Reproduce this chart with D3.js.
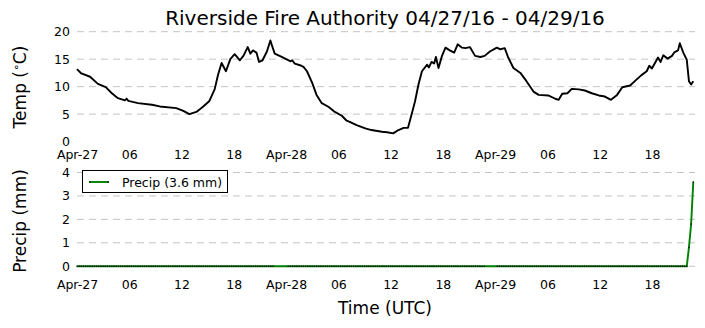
<!DOCTYPE html>
<html>
<head>
<meta charset="utf-8">
<script src="https://cdn.jsdelivr.net/npm/d3@7"></script>
<style>
  body { margin: 0; background: #fff; }
  svg { display: block; font-family: "DejaVu Sans", sans-serif; }
</style>
</head>
<body>
<svg id="chart" width="705" height="328"></svg>
<script>
// hours after 2016-04-27 00:00 UTC, and temperature
var tempHours = [0, 0.5, 1.5, 2.4, 3.3, 4.0, 4.7, 5.5, 5.7, 5.9, 7.0, 8.6, 9.5, 11.4, 12.2, 12.9, 13.7, 14.5, 15.2, 15.8, 16.2, 16.6, 17.1, 17.6,
    18.1, 18.7, 19.1, 19.6, 19.9, 20.2, 20.6, 20.9, 21.3, 21.8, 22.2, 22.4, 22.7, 23.5, 24.3, 24.5, 24.7, 25.0, 25.6, 26.0, 26.4, 27.0, 27.5,
    28.1, 28.9, 29.6, 30.4, 30.96, 31.3, 32.1, 33.1, 33.8, 35.0, 35.6, 36.3, 36.9, 37.5, 38.0, 38.4, 38.8, 39.2, 39.6, 40.2, 40.4, 40.7, 41.0,
    41.2, 41.5, 41.9, 42.3, 42.8, 43.3, 43.7, 44.2, 44.6, 45.1, 45.7, 46.3, 46.8, 47.4, 48.2, 48.6, 49.1, 49.5, 50.1, 50.9, 51.6, 52.4, 53.0,
    54.1, 54.9, 55.3, 55.7, 56.3, 56.8, 57.6, 58.3, 59.1, 59.9, 60.6, 61.3, 62.0, 62.6, 63.5, 64.1, 64.8, 65.4, 65.7, 66.0, 66.7, 67.0, 67.3,
    67.8, 68.3, 68.6, 69.0, 69.2, 69.6, 70.0, 70.25, 70.5, 70.75];
var tempValues = [13.2, 12.4, 11.8, 10.5, 9.9, 8.8, 7.9, 7.5, 7.8, 7.4, 7.0, 6.7, 6.4, 6.1, 5.6, 5.0, 5.4, 6.4, 7.4, 9.5, 12.2, 14.3, 12.8, 15.0,
    15.9, 14.8, 15.6, 17.2, 16.0, 16.6, 16.2, 14.5, 14.8, 16.4, 18.4, 17.4, 16.0, 15.4, 14.8, 14.6, 14.8, 14.2, 13.9, 13.6, 12.8, 10.7, 8.5,
    7.0, 6.3, 5.4, 4.7, 3.8, 3.6, 3.0, 2.4, 2.1, 1.8, 1.7, 1.5, 2.1, 2.5, 2.5, 4.9, 7.3, 10.4, 12.8, 14.0, 13.5, 14.5, 14.2,
    15.4, 13.4, 15.6, 17.1, 16.6, 16.2, 17.7, 17.1, 17.0, 17.2, 15.6, 15.4, 15.6, 16.4, 17.1, 16.8, 17.0, 15.3, 13.4, 12.5, 11.0, 9.1, 8.5,
    8.4, 7.8, 7.6, 8.7, 8.8, 9.6, 9.5, 9.3, 8.8, 8.4, 8.2, 7.6, 8.5, 9.9, 10.2, 11.1, 12.1, 12.8, 13.8, 13.3, 15.3, 14.5, 15.7,
    15.1, 15.6, 16.3, 16.6, 17.9, 16.2, 14.9, 11.0, 10.4, 11.0];

// cumulative precip, one reading per 15 min; zero until the last hour
var precipStep = 0.25;
var precipZeroUntil = 70;
var precipTailHours = [70.25, 70.5, 70.75];
var precipTailValues = [0.8, 1.8, 3.6];
var precipMissingMarks = [[22.7, 24.1], [46.9, 48.2]];

var tempTicks = [0, 5, 10, 15, 20];
var precipTicks = [0, 1, 2, 3, 4];
var precipTotal = "3.6 mm";

var t0 = Date.UTC(2016, 3, 27, 0, 0);
var hourToDate = function (h) { return new Date(t0 + h * 3600e3); };

var tempData = tempHours.map(function (h, i) { return { t: hourToDate(h), v: tempValues[i] }; });
var precipData = [];
for (var h = 0; h <= precipZeroUntil + 1e-9; h += precipStep) {
    precipData.push({ h: h, t: hourToDate(h), v: 0 });
}
precipTailHours.forEach(function (h, i) { precipData.push({ h: h, t: hourToDate(h), v: precipTailValues[i] }); });

var svg = d3.select("#chart");

var x = d3.scaleUtc()
    .domain([hourToDate(0), hourToDate(70.75)])
    .range([77, 693.3]);

var yT = d3.scaleLinear().domain([0, 20]).range([141.6, 31.7]);
var yP = d3.scaleLinear().domain([0, 4]).range([266.2, 172.5]);

var xTicks = d3.utcHour.every(6).range(hourToDate(0), hourToDate(71));
var fmtTick = function (d) {
    return d.getUTCHours() === 0 ? d3.utcFormat("%b-%d")(d) : d3.utcFormat("%H")(d);
};

function drawPanel(y, yticks, gridTicks) {
    var g = svg.append("g");
    // dashed grid
    g.selectAll("line.grid").data(gridTicks).enter().append("line")
        .attr("class", "grid")
        .attr("x1", 77).attr("x2", 695)
        .attr("y1", function (d) { return y(d); })
        .attr("y2", function (d) { return y(d); })
        .attr("stroke", "#c4c4c4")
        .attr("stroke-width", 1)
        .attr("stroke-dasharray", "7,5");

    var ya = d3.axisLeft(y).tickValues(yticks).tickSize(0).tickPadding(0).tickFormat(d3.format("d"));
    var yg = g.append("g").attr("transform", "translate(70,0)").call(ya);
    yg.select(".domain").remove();
    yg.selectAll("text").attr("font-size", "12.5px").attr("font-family", "DejaVu Sans").attr("fill", "#000");
    return g;
}

// ---- temperature panel
drawPanel(yT, tempTicks, [5, 10, 15, 20]);
var xa1 = d3.axisBottom(x).tickValues(xTicks).tickSize(0).tickPadding(0).tickFormat(fmtTick);
var xg1 = svg.append("g").attr("transform", "translate(0,150)").call(xa1);
xg1.select(".domain").remove();
xg1.selectAll("text").attr("font-size", "12.5px").attr("font-family", "DejaVu Sans").attr("fill", "#000");

svg.append("path")
    .datum(tempData)
    .attr("fill", "none")
    .attr("stroke", "#000")
    .attr("stroke-width", 1.9)
    .attr("stroke-linejoin", "round")
    .attr("d", d3.line().x(function (d) { return x(d.t); }).y(function (d) { return yT(d.v); }));

// ---- precip panel
drawPanel(yP, precipTicks, [0, 1, 2, 3, 4]);
var xa2 = d3.axisBottom(x).tickValues(xTicks).tickSize(0).tickPadding(0).tickFormat(fmtTick);
var xg2 = svg.append("g").attr("transform", "translate(0,280)").call(xa2);
xg2.select(".domain").remove();
xg2.selectAll("text").attr("font-size", "12.5px").attr("font-family", "DejaVu Sans").attr("fill", "#000");

svg.append("path")
    .datum(precipData)
    .attr("fill", "none")
    .attr("stroke", "#008000")
    .attr("stroke-width", 1.9)
    .attr("d", d3.line().x(function (d) { return x(d.t); }).y(function (d) { return yP(d.v); }));

var marked = precipData.filter(function (d) {
    return !precipMissingMarks.some(function (r) { return d.h > r[0] && d.h < r[1]; });
});
svg.append("g").selectAll("rect").data(marked).enter().append("rect")
    .attr("x", function (d) { return x(d.t) - 0.6; })
    .attr("y", function (d) { return yP(d.v) - 0.6; })
    .attr("width", 1.2).attr("height", 1.4)
    .attr("fill", "#000");

// legend
var lg = svg.append("g");
lg.append("rect").attr("x", 82.5).attr("y", 170.5).attr("width", 145).attr("height", 22)
    .attr("fill", "#fff").attr("stroke", "#000").attr("stroke-width", 1);
lg.append("line").attr("x1", 89).attr("x2", 109).attr("y1", 182).attr("y2", 182)
    .attr("stroke", "#008000").attr("stroke-width", 1.9);
lg.append("rect").attr("x", 89.4).attr("y", 181.4).attr("width", 1.2).attr("height", 1.2).attr("fill", "#000");
lg.append("rect").attr("x", 107.4).attr("y", 181.4).attr("width", 1.2).attr("height", 1.2).attr("fill", "#000");
lg.append("text").attr("x", 122).attr("y", 186.5).attr("font-size", "12.5px").text("Precip (" + precipTotal + ")");

// titles
svg.append("text").attr("x", 385).attr("y", 25).attr("text-anchor", "middle")
    .attr("font-size", "20px").text("Riverside Fire Authority 04/27/16 - 04/29/16");

var tl = svg.append("text").attr("transform", "translate(26,87) rotate(-90)")
    .attr("text-anchor", "middle").attr("font-size", "17px");
tl.append("tspan").text("Temp (");
tl.append("tspan").attr("dy", -6).attr("font-size", "11px").text("\u2218");
tl.append("tspan").attr("dy", 6).text("C)");

svg.append("text").attr("transform", "translate(26,221) rotate(-90)")
    .attr("text-anchor", "middle").attr("font-size", "17px").text("Precip (mm)");

svg.append("text").attr("x", 385).attr("y", 314).attr("text-anchor", "middle")
    .attr("font-size", "17px").text("Time (UTC)");
</script>
</body>
</html>
